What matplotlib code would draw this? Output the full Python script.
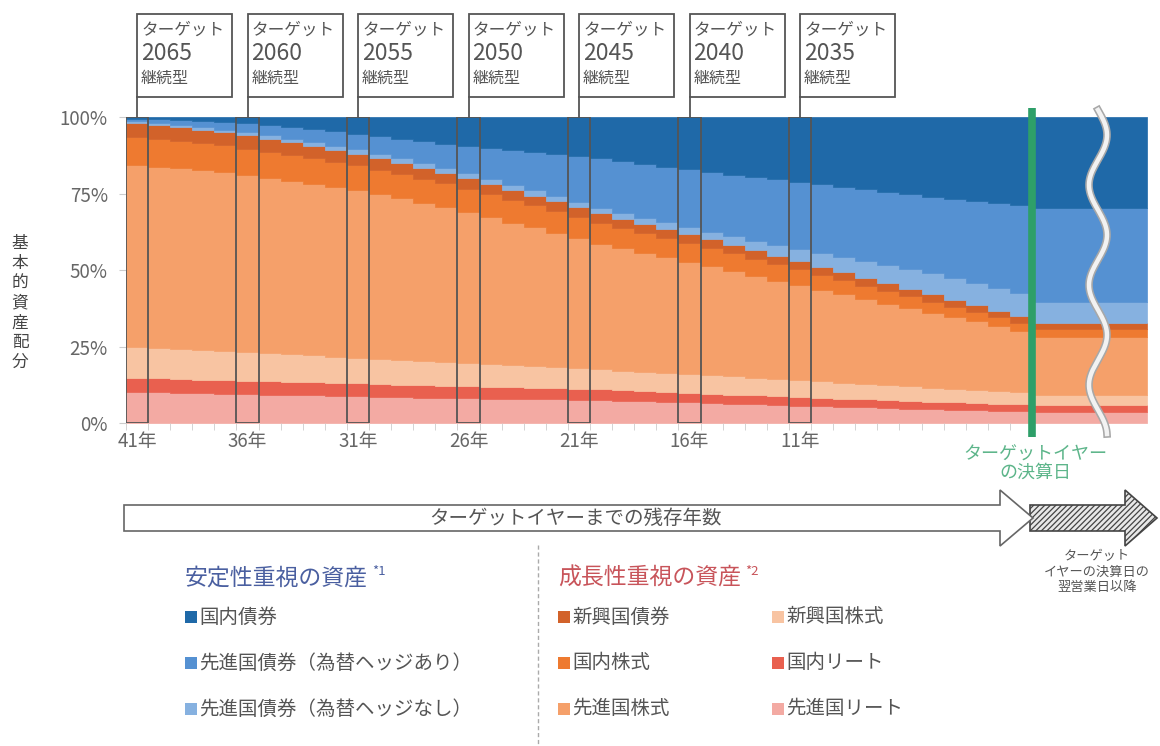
import numpy as np
import matplotlib
matplotlib.use('Agg')
import matplotlib.pyplot as plt
from matplotlib.patches import Rectangle, Polygon

plt.rcParams['font.family'] = ['Noto Sans CJK JP', 'DejaVu Sans']
plt.rcParams['hatch.linewidth'] = 0.9

# remaining years 41..1, last value of every series = after the target year
years_left = list(range(41, 0, -1))
fund_years = [2065, 2060, 2055, 2050, 2045, 2040, 2035]

kokunai_saiken = [0.5, 0.7, 1.0, 1.3, 1.6, 2.0, 2.6, 3.2, 3.9, 4.7, 5.5, 6.3, 7.1, 7.9, 8.7, 9.5,
                  10.2, 10.9, 11.6, 12.2, 12.8, 13.5, 14.4, 15.3, 16.2, 17.1, 18.0, 18.8, 19.6,
                  20.4, 21.2, 22.0, 22.8, 23.6, 24.4, 25.2, 26.0, 26.7, 27.4, 28.0, 28.7, 29.7]
hedge_ari = [0.8, 1.1, 1.5, 1.9, 2.5, 3.0, 3.4, 4.0, 4.4, 4.7, 5.1, 5.7, 6.4, 7.2, 8.0, 8.9,
             10.1, 11.2, 12.4, 13.7, 14.9, 16.2, 16.9, 17.6, 18.2, 18.9, 19.5, 20.2, 20.8,
             21.4, 22.0, 22.6, 23.0, 23.5, 24.0, 24.5, 25.0, 25.9, 26.8, 27.9, 28.8, 30.8]
hedge_nashi = [0.7, 0.8, 0.8, 0.9, 0.9, 1.0, 1.1, 1.1, 1.2, 1.3, 1.4, 1.5, 1.5, 1.5, 1.6, 1.6,
               1.6, 1.7, 1.7, 1.7, 1.8, 1.8, 1.9, 2.0, 2.2, 2.3, 2.5, 2.8, 3.2, 3.6, 4.0, 4.4,
               5.0, 5.5, 6.0, 6.5, 7.0, 7.2, 7.3, 7.4, 7.5, 6.8]
shinkou_saiken = [4.5, 4.5, 4.4, 4.4, 4.3, 4.3, 4.2, 4.1, 4.0, 3.9, 3.8, 3.7, 3.6, 3.5, 3.4, 3.4,
                  3.3, 3.3, 3.2, 3.2, 3.1, 3.1, 3.0, 3.0, 2.9, 2.9, 2.8, 2.8, 2.7, 2.7, 2.6, 2.6,
                  2.5, 2.5, 2.5, 2.4, 2.4, 2.3, 2.3, 2.2, 2.2, 2.0]
kokunai_kabu = [9.2, 9.1, 9.0, 8.9, 8.8, 8.7, 8.6, 8.5, 8.4, 8.3, 8.2, 8.1, 8.0, 7.9, 7.8, 7.6,
                7.5, 7.4, 7.2, 7.1, 7.0, 6.8, 6.7, 6.5, 6.4, 6.2, 6.0, 5.8, 5.6, 5.4, 5.2, 5.0,
                4.7, 4.4, 4.1, 3.8, 3.5, 3.3, 3.0, 2.8, 2.6, 2.5]
senshin_kabu = [59.5, 59.2, 59.2, 58.8, 58.4, 57.9, 57.3, 56.6, 56.0, 55.4, 54.6, 53.8, 52.9,
                51.7, 50.6, 49.5, 48.0, 46.6, 45.4, 43.9, 42.5, 41.1, 40.0, 38.9, 37.7, 36.6,
                35.6, 34.4, 33.3, 32.1, 31.0, 29.6, 28.8, 27.6, 26.6, 25.5, 24.5, 23.4, 22.4,
                21.4, 20.2, 19.0]
shinkou_kabu = [10.1, 10.0, 9.8, 9.6, 9.5, 9.3, 9.1, 9.0, 8.8, 8.6, 8.4, 8.2, 8.0, 7.9, 7.7, 7.5,
                7.4, 7.2, 7.0, 6.8, 6.7, 6.5, 6.4, 6.3, 6.2, 6.1, 6.0, 5.9, 5.8, 5.7, 5.6, 5.5,
                5.3, 5.2, 5.0, 4.9, 4.7, 4.5, 4.3, 4.1, 3.9, 3.3]
kokunai_reit = [4.6, 4.6, 4.5, 4.5, 4.5, 4.4, 4.4, 4.4, 4.3, 4.3, 4.3, 4.2, 4.1, 4.1, 4.0, 3.9,
                3.9, 3.8, 3.7, 3.7, 3.6, 3.5, 3.4, 3.3, 3.3, 3.2, 3.1, 3.0, 2.9, 2.8, 2.7, 2.7,
                2.6, 2.6, 2.5, 2.5, 2.4, 2.4, 2.4, 2.3, 2.3, 2.3]
senshin_reit = [10.1, 10.0, 9.8, 9.7, 9.5, 9.4, 9.3, 9.1, 9.0, 8.8, 8.7, 8.5, 8.4, 8.3, 8.2, 8.1,
                8.0, 7.9, 7.8, 7.7, 7.6, 7.5, 7.3, 7.1, 6.9, 6.7, 6.5, 6.3, 6.1, 5.9, 5.7, 5.6,
                5.3, 5.1, 4.9, 4.7, 4.5, 4.3, 4.1, 3.9, 3.8, 3.6]

names = ['国内債券', '先進国債券（為替ヘッジあり）', '先進国債券（為替ヘッジなし）',
         '新興国債券', '国内株式', '先進国株式', '新興国株式', '国内リート', '先進国リート']
series = [kokunai_saiken, hedge_ari, hedge_nashi, shinkou_saiken, kokunai_kabu,
          senshin_kabu, shinkou_kabu, kokunai_reit, senshin_reit]
colors = ['#1F69A8', '#5591D2', '#86B1E0', '#D2622A', '#EE7A30', '#F5A06A',
          '#F8C4A2', '#E9604F', '#F3AAA3']

W, H = 1160, 746
AX_L, AX_R, AX_T, AX_B = 126, 1147, 117, 423
X_END = 46.2

fig = plt.figure(figsize=(W / 100, H / 100), dpi=100)
ax = fig.add_axes([AX_L / W, 1 - AX_B / H, (AX_R - AX_L) / W, (AX_B - AX_T) / H])

x = np.append(np.arange(len(years_left) + 1), X_END)
bottom = np.zeros(len(x))
for vals, col in reversed(list(zip(series, colors))):
    v = np.append(vals, vals[-1])
    ax.fill_between(x, bottom, bottom + v, step='post', color=col, ec=col, lw=0.5)
    bottom = bottom + v

# outline of each fund's current year
for k in range(len(fund_years)):
    ax.add_patch(Rectangle((5 * k, 0), 1, 100, fill=False, ec='#555555', lw=1.3, zorder=3))

# target year settlement date
ax.plot([41, 41], [-4.6, 102.9], color='#2E9F69', lw=5.5, clip_on=False, zorder=4,
        solid_capstyle='butt')

ax.set_xlim(0, X_END)
ax.set_ylim(0, 100)
for s in ax.spines.values():
    s.set_visible(False)
lab_idx = list(range(0, 31, 5))
ax.set_xticks([i + 0.5 for i in lab_idx], labels=[f'{years_left[i]}年' for i in lab_idx])
ax.set_xticks(np.arange(0, 42), minor=True)
ax.tick_params(axis='x', which='major', length=0, pad=6, labelsize=13.5, labelcolor='#666666')
ax.tick_params(axis='x', which='minor', length=5, color='#cccccc')
ax.set_yticks([0, 25, 50, 75, 100], labels=['0%', '25%', '50%', '75%', '100%'])
ax.tick_params(axis='y', length=5, color='#cccccc', pad=8, labelsize=13.5, labelcolor='#666666')

# overlay in pixel coordinates
ov = fig.add_axes([0, 0, 1, 1])
ov.set_xlim(0, W)
ov.set_ylim(H, 0)
ov.axis('off')


def px_of(t):
    return AX_L + t * (AX_R - AX_L) / X_END


for k, yr in enumerate(fund_years):
    xl = px_of(5 * k + 0.5)
    ov.add_patch(Rectangle((xl, 14), 95, 83, fill=False, ec='#555555', lw=1.3))
    ov.plot([xl, xl], [97, 117], color='#555555', lw=1.3)
    ov.text(xl + 4, 30, 'ターゲット', fontsize=12, color='#555555', va='center')
    ov.text(xl + 4, 53, str(yr), fontsize=16.5, color='#555555', va='center')
    ov.text(xl + 4, 78, '継続型', fontsize=11.5, color='#555555', va='center')

ov.text(20, 303, '\n'.join('基本的資産配分'), ha='center', va='center', fontsize=12,
        linespacing=1.22, color='#444444')

# break mark
ys = np.linspace(110, 434, 400)
xs = 1098 + 9 * np.sin(2 * np.pi * (ys - 110) / 100)
ov.plot(xs, ys, color='#a8a8a8', lw=5.5)
ov.plot(xs, ys, color='#f2f2f2', lw=3.2)

ov.text(1035, 455, 'ターゲットイヤー', ha='center', va='center', fontsize=13, color='#5DB58A')
ov.text(1035, 473, 'の決算日', ha='center', va='center', fontsize=13, color='#5DB58A')

# arrows
ov.add_patch(Polygon([(1030, 505), (1125, 505), (1125, 490), (1157, 518), (1125, 546),
                      (1125, 531), (1030, 531)], closed=True, fc='#e8e8e8', ec='#444444',
                     lw=1.2, hatch='//////'))
ov.add_patch(Polygon([(124, 505), (1000, 505), (1000, 490), (1033, 518), (1000, 546),
                      (1000, 531), (124, 531)], closed=True, fc='white', ec='#666666', lw=1.2))
ov.text(575, 518, 'ターゲットイヤーまでの残存年数', ha='center', va='center', fontsize=14,
        color='#555555')
ov.text(1097, 572, 'ターゲット\nイヤーの決算日の\n翌営業日以降', ha='center', va='center',
        fontsize=9.5, linespacing=1.25, color='#555555')

# legend
ov.plot([538, 538], [545, 746], color='#aaaaaa', lw=1, ls=(0, (3, 2)))
h1 = ov.text(185, 578, '安定性重視の資産', fontsize=16.5, color='#4A5FA0', va='center')
ov.annotate('*1', xy=(1, 0.8), xycoords=h1, xytext=(3, 0), textcoords='offset points',
            fontsize=9.5, color='#4A5FA0', va='center')
h2 = ov.text(558, 578, '成長性重視の資産', fontsize=16.5, color='#C8545A', va='center')
ov.annotate('*2', xy=(1, 0.8), xycoords=h2, xytext=(3, 0), textcoords='offset points',
            fontsize=9.5, color='#C8545A', va='center')

leg_pos = [(185, 617), (185, 663), (185, 709), (558, 617), (558, 663), (558, 709),
           (772, 617), (772, 663), (772, 709)]
for (lx, ly), name, col in zip(leg_pos, names, colors):
    ov.add_patch(Rectangle((lx, ly - 6), 12, 12, fc=col, ec='none'))
    ov.text(lx + 14, ly, name, fontsize=14, color='#555555', va='center')

fig.savefig('out.png', dpi=100)
